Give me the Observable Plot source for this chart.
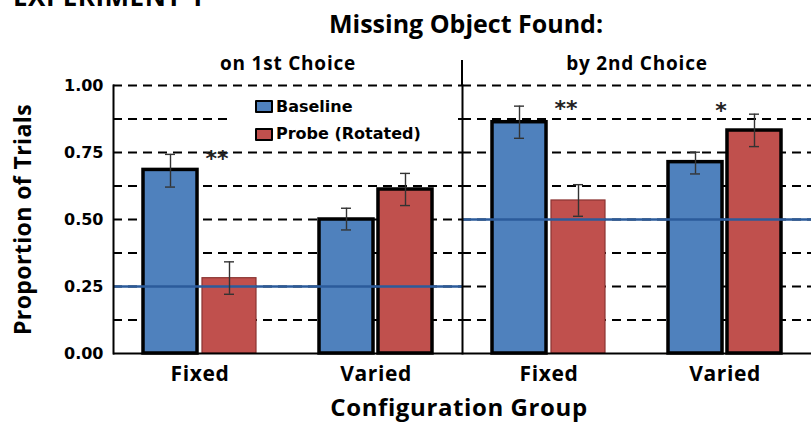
<!DOCTYPE html>
<html><head><meta charset="utf-8">
<script src="https://cdn.jsdelivr.net/npm/d3@7"></script>
<script src="https://cdn.jsdelivr.net/npm/@observablehq/plot@0.6"></script>
<style>
html,body{margin:0;padding:0;background:#fff;overflow:hidden}
#wrap{position:relative;width:811px;height:423px;overflow:hidden;background:#fff}
#wrap svg{position:absolute;left:0;top:0}
.t{position:absolute;font-family:"Open Sans";font-weight:700;color:#000;white-space:nowrap;line-height:1}
#legend{position:absolute;left:232px;top:89px;width:222px;height:57px;background:#fff}
.sw{position:absolute;left:23px;width:18px;height:13px;box-sizing:border-box;border:2.5px solid #000;border-radius:1px}
.lt{position:absolute;left:44px;font-family:"DejaVu Sans";font-weight:700;font-size:16px;line-height:1;color:#000;white-space:nowrap}
g[aria-label="x-axis tick label"] text{letter-spacing:0.6px}
g[aria-label="fx-axis tick label"] text{letter-spacing:0.8px}
g[aria-label="y-axis label"] text{letter-spacing:0.4px}
</style>
</head><body>
<div id="wrap"></div>
<script>
// ---- data ----
const panels = ["on 1st Choice", "by 2nd Choice"];
const groups = ["Fixed", "Varied"];
const conditions = ["Baseline", "Probe (Rotated)"];
// order: [1st Fixed, 1st Varied, 2nd Fixed, 2nd Varied]
const cellPanel = ["on 1st Choice", "on 1st Choice", "by 2nd Choice", "by 2nd Choice"];
const cellGroup = ["Fixed", "Varied", "Fixed", "Varied"];
const baselineMean = [0.685, 0.500, 0.863, 0.714];
const baselineLo   = [0.621, 0.461, 0.803, 0.670];
const baselineHi   = [0.743, 0.542, 0.923, 0.751];
const probeMean    = [0.281, 0.612, 0.571, 0.832];
const probeLo      = [0.221, 0.552, 0.512, 0.772];
const probeHi      = [0.342, 0.672, 0.630, 0.893];
const chanceLevel  = [0.25, 0.50];
const sigPanel = ["on 1st Choice", "by 2nd Choice", "by 2nd Choice"];
const sigGroup = ["Fixed", "Fixed", "Varied"];
const sigLabel = ["**", "**", "*"];
const sigY     = [0.75, 0.935, 0.927];
const yTicks = [0, 0.25, 0.5, 0.75, 1];
const gridTicks = [0.125, 0.25, 0.375, 0.5, 0.625, 0.75, 0.875, 1];

// ---- tables ----
const rows = [];
cellPanel.forEach((p, i) => {
  rows.push({panel: p, group: cellGroup[i], condition: conditions[0], value: baselineMean[i], lo: baselineLo[i], hi: baselineHi[i]});
  rows.push({panel: p, group: cellGroup[i], condition: conditions[1], value: probeMean[i], lo: probeLo[i], hi: probeHi[i]});
});
const chance = panels.map((p, i) => ({panel: p, value: chanceLevel[i]}));
const sig = sigLabel.map((l, i) => ({panel: sigPanel[i], group: sigGroup[i], label: l, y: sigY[i]}));

// ---- layout ----
const W = 811, H = 423, mL = 112, mR = 0, mT = 85, mB = 70;
const pIn = 0.36, pOut = 0.17, gap = 5;
const facetW = (W - mL - mR) / panels.length;
const step = facetW / (groups.length - pIn + 2 * pOut);
const half = step * (1 - pIn) / 2;
const inset = half + gap / 2;
const off = inset / 2;
const blue = "#4f81bd", red = "#c0504d";

const isBase = d => d.condition === conditions[0];
const thin = d => !isBase(d) && d.group === "Fixed";

const chart = Plot.plot({
  width: W, height: H,
  marginLeft: mL, marginRight: mR, marginTop: mT, marginBottom: mB,
  style: {fontFamily: "'Open Sans'", fontWeight: "bold", color: "#000", background: "transparent", overflow: "visible"},
  fx: {domain: panels, padding: 0},
  x: {domain: groups, paddingInner: pIn, paddingOuter: pOut},
  y: {domain: [0, 1]},
  marks: [
    Plot.gridY({ticks: gridTicks, stroke: "#000", strokeOpacity: 1, strokeWidth: 2, strokeDasharray: "9,6"}),
    Plot.barY(rows.filter(d => isBase(d)), {fx: "panel", x: "group", y: "value", fill: blue, stroke: "#000", strokeWidth: 3.5, insetRight: inset}),
    Plot.barY(rows.filter(d => !isBase(d) && !thin(d)), {fx: "panel", x: "group", y: "value", fill: red, stroke: "#000", strokeWidth: 3.5, insetLeft: inset}),
    Plot.barY(rows.filter(d => thin(d)), {fx: "panel", x: "group", y: "value", fill: red, stroke: "#8a3432", strokeWidth: 1.2, insetLeft: inset}),
    Plot.ruleY(chance, {fx: "panel", y: "value", stroke: "#2b5b9b", strokeWidth: 2.5}),
    Plot.ruleX(rows.filter(isBase), {fx: "panel", x: "group", y1: "lo", y2: "hi", dx: -off, stroke: "#333", strokeWidth: 1.4}),
    Plot.ruleX(rows.filter(d => !isBase(d)), {fx: "panel", x: "group", y1: "lo", y2: "hi", dx: off, stroke: "#333", strokeWidth: 1.4}),
    Plot.tickY(rows.filter(isBase), {fx: "panel", x: "group", y: "lo", dx: -off, inset: half - 5, stroke: "#333", strokeWidth: 1.4}),
    Plot.tickY(rows.filter(isBase), {fx: "panel", x: "group", y: "hi", dx: -off, inset: half - 5, stroke: "#333", strokeWidth: 1.4}),
    Plot.tickY(rows.filter(d => !isBase(d)), {fx: "panel", x: "group", y: "lo", dx: off, inset: half - 5, stroke: "#333", strokeWidth: 1.4}),
    Plot.tickY(rows.filter(d => !isBase(d)), {fx: "panel", x: "group", y: "hi", dx: off, inset: half - 5, stroke: "#333", strokeWidth: 1.4}),
    Plot.text(sig.filter(d => d.label.length === 2), {fx: "panel", x: "group", y: "y", text: "label", dx: 17, dy: 6, fontSize: 22, fontFamily: "DejaVu Sans", fill: "#222"}),
    Plot.text(sig.filter(d => d.label.length === 1), {fx: "panel", x: "group", y: "y", text: "label", dx: -4, dy: 6, fontSize: 22, fontFamily: "DejaVu Sans", fill: "#222"}),
    Plot.ruleY([0], {stroke: "#000", strokeWidth: 2}),
    Plot.frame({anchor: "left", stroke: "#000", strokeWidth: 2}),
    Plot.axisY({ticks: yTicks, tickFormat: d3.format(".2f"), tickSize: 0, tickPadding: 10, fontSize: 16, fontFamily: "DejaVu Sans", label: null}),
    Plot.axisY({ticks: [], label: "Proportion of Trials", labelArrow: "none", labelAnchor: "center", labelOffset: 99, fontSize: 23}),
    Plot.axisX({tickSize: 0, tickPadding: 13, fontSize: 21, label: null}),
    Plot.axisFx({anchor: "top", tickSize: 0, tickPadding: 16, fontSize: 19, label: null})
  ]
});

// divider reaching above the panels
const fxS = chart.scale("fx"), yS = chart.scale("y");
const xd = fxS.apply(panels[1]);
d3.select(chart).append("line")
  .attr("x1", xd).attr("x2", xd)
  .attr("y1", yS.apply(1) - 25).attr("y2", yS.apply(1))
  .attr("stroke", "#000").attr("stroke-width", 2);

const wrap = document.getElementById("wrap");
wrap.appendChild(chart);

function addText(txt, css) {
  const d = document.createElement("div");
  d.className = "t";
  d.textContent = txt;
  Object.assign(d.style, css);
  wrap.appendChild(d);
  return d;
}
addText("EXPERIMENT 1", {left: "13px", top: "-17px", fontSize: "26px", letterSpacing: "0.5px"});
addText("Missing Object Found:", {left: "466px", top: "11px", fontSize: "25px", transform: "translateX(-50%)"});
addText("Configuration Group", {left: "459px", top: "395px", fontSize: "24px", letterSpacing: "0.6px", transform: "translateX(-50%)"});

// legend
const lg = document.createElement("div");
lg.id = "legend";
[[conditions[0], blue, 11, 9.5], [conditions[1], red, 38.7, 36.5]].forEach(([name, col, st, tt]) => {
  const s = document.createElement("div");
  s.className = "sw"; s.style.top = st + "px"; s.style.background = col;
  const t = document.createElement("div");
  t.className = "lt"; t.style.top = tt + "px"; t.textContent = name;
  lg.appendChild(s); lg.appendChild(t);
});
wrap.appendChild(lg);
</script>
</body></html>
